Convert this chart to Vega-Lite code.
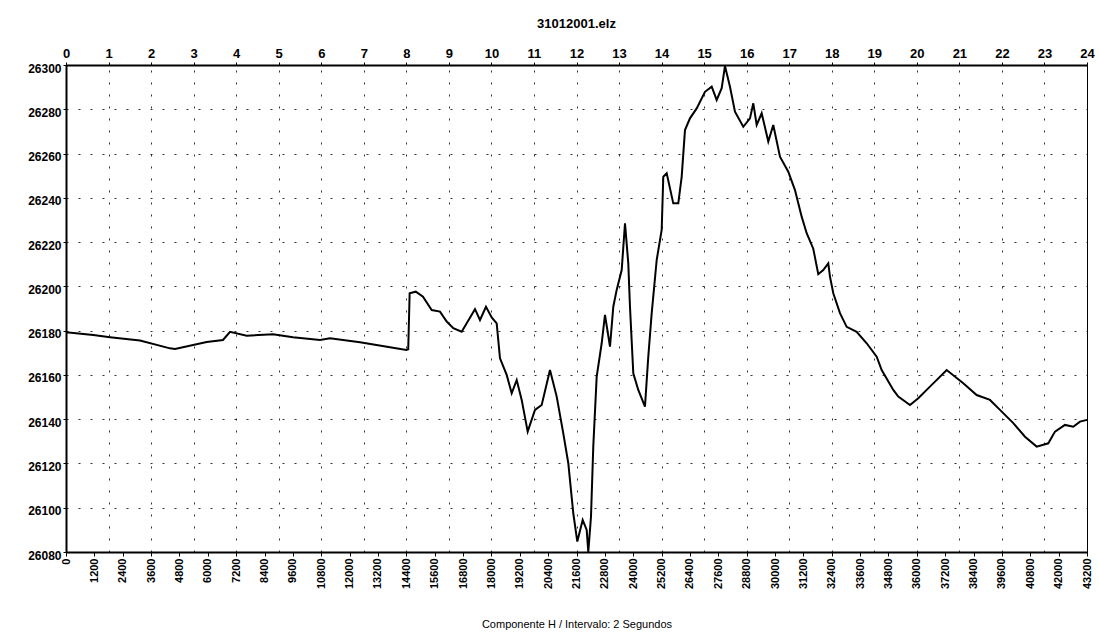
{
  "$schema": "https://vega.github.io/schema/vega-lite/v6.json",
  "width": 1021,
  "height": 487,
  "autosize": {"type": "none"},
  "padding": {"left": 66, "top": 65, "right": 12, "bottom": 87},
  "background": "white",
  "config": {
    "font": "Liberation Sans",
    "view": {"stroke": "black", "strokeWidth": 1},
    "axis": {"labelFont": "Liberation Sans", "titleFont": "Liberation Sans", "labelColor": "black", "titleColor": "black", "domainColor": "black", "tickColor": "black"}
  },
  "title": {"text": "31012001.elz", "fontSize": 13, "fontWeight": "bold", "color": "black", "anchor": "middle", "offset": 16, "font": "Liberation Sans"},
  "data": {"values": [
    {"s": 0, "v": 26179.3}, {"s": 1155, "v": 26178.0}, {"s": 1862, "v": 26177.0}, {"s": 3131, "v": 26175.5},
    {"s": 4400, "v": 26172.0}, {"s": 4612, "v": 26171.7}, {"s": 5953, "v": 26174.9}, {"s": 6643, "v": 26175.8},
    {"s": 6939, "v": 26179.5}, {"s": 7645, "v": 26177.7}, {"s": 8758, "v": 26178.4}, {"s": 9604, "v": 26177.0},
    {"s": 10747, "v": 26175.8}, {"s": 11170, "v": 26176.6}, {"s": 12439, "v": 26174.8}, {"s": 13835, "v": 26172.3},
    {"s": 14400, "v": 26171.3}, {"s": 14480, "v": 26171.6}, {"s": 14540, "v": 26196.9}, {"s": 14800, "v": 26197.6},
    {"s": 15105, "v": 26195.3}, {"s": 15473, "v": 26189.3}, {"s": 15824, "v": 26188.6}, {"s": 16108, "v": 26184.1},
    {"s": 16387, "v": 26181.1}, {"s": 16742, "v": 26179.5}, {"s": 16954, "v": 26183.3}, {"s": 17305, "v": 26189.7},
    {"s": 17516, "v": 26184.8}, {"s": 17770, "v": 26190.8}, {"s": 18012, "v": 26186.0}, {"s": 18223, "v": 26183.3},
    {"s": 18363, "v": 26167.5}, {"s": 18646, "v": 26160.0}, {"s": 18858, "v": 26151.7}, {"s": 19070, "v": 26157.7},
    {"s": 19281, "v": 26148.7}, {"s": 19535, "v": 26134.4}, {"s": 19843, "v": 26144.2}, {"s": 20127, "v": 26146.4},
    {"s": 20478, "v": 26162.2}, {"s": 20762, "v": 26150.2}, {"s": 21041, "v": 26133.6}, {"s": 21253, "v": 26120.1},
    {"s": 21464, "v": 26097.5}, {"s": 21634, "v": 26084.7}, {"s": 21862, "v": 26094.5}, {"s": 22031, "v": 26090.0},
    {"s": 22099, "v": 26080.0}, {"s": 22213, "v": 26096.0}, {"s": 22310, "v": 26127.6}, {"s": 22454, "v": 26159.2},
    {"s": 22666, "v": 26174.3}, {"s": 22805, "v": 26187.1}, {"s": 23017, "v": 26172.8}, {"s": 23157, "v": 26190.8},
    {"s": 23300, "v": 26198.4}, {"s": 23512, "v": 26207.4}, {"s": 23652, "v": 26228.5}, {"s": 23791, "v": 26210.4},
    {"s": 23863, "v": 26190.8}, {"s": 24003, "v": 26160.7}, {"s": 24214, "v": 26153.2}, {"s": 24497, "v": 26145.7},
    {"s": 24637, "v": 26168.2}, {"s": 24781, "v": 26187.8}, {"s": 24993, "v": 26211.9}, {"s": 25204, "v": 26225.5},
    {"s": 25272, "v": 26249.5}, {"s": 25416, "v": 26251.1}, {"s": 25695, "v": 26237.5}, {"s": 25907, "v": 26237.5},
    {"s": 26050, "v": 26249.5}, {"s": 26190, "v": 26270.6}, {"s": 26401, "v": 26275.9}, {"s": 26685, "v": 26280.4},
    {"s": 27036, "v": 26287.9}, {"s": 27320, "v": 26290.2}, {"s": 27531, "v": 26284.2}, {"s": 27743, "v": 26289.5},
    {"s": 27882, "v": 26299.5}, {"s": 28094, "v": 26290.2}, {"s": 28305, "v": 26278.9}, {"s": 28657, "v": 26272.1},
    {"s": 28940, "v": 26275.9}, {"s": 29080, "v": 26282.7}, {"s": 29224, "v": 26272.9}, {"s": 29435, "v": 26278.2},
    {"s": 29715, "v": 26265.4}, {"s": 29926, "v": 26272.9}, {"s": 30209, "v": 26258.6}, {"s": 30561, "v": 26251.8},
    {"s": 30844, "v": 26243.5}, {"s": 31127, "v": 26231.5}, {"s": 31339, "v": 26224.0}, {"s": 31618, "v": 26217.0},
    {"s": 31830, "v": 26205.5}, {"s": 32041, "v": 26207.4}, {"s": 32253, "v": 26210.4}, {"s": 32325, "v": 26204.4},
    {"s": 32465, "v": 26196.9}, {"s": 32748, "v": 26187.9}, {"s": 33032, "v": 26181.7}, {"s": 33454, "v": 26179.5},
    {"s": 33878, "v": 26174.3}, {"s": 34301, "v": 26168.2}, {"s": 34513, "v": 26162.2}, {"s": 35004, "v": 26153.2},
    {"s": 35215, "v": 26150.2}, {"s": 35710, "v": 26146.4}, {"s": 36061, "v": 26149.5}, {"s": 36556, "v": 26154.7},
    {"s": 37263, "v": 26162.2}, {"s": 37965, "v": 26156.2}, {"s": 38532, "v": 26150.9}, {"s": 39094, "v": 26148.7},
    {"s": 39518, "v": 26144.2}, {"s": 40081, "v": 26138.2}, {"s": 40576, "v": 26132.1}, {"s": 41071, "v": 26127.6},
    {"s": 41562, "v": 26129.1}, {"s": 41845, "v": 26134.4}, {"s": 42268, "v": 26137.4}, {"s": 42619, "v": 26136.6},
    {"s": 42903, "v": 26138.9}, {"s": 43200, "v": 26139.7}
  ]},
  "resolve": {"axis": {"x": "independent"}},
  "layer": [
    {
      "mark": {"type": "line", "color": "black", "strokeWidth": 2, "opacity": 0},
      "encoding": {
        "x": {"field": "s", "type": "quantitative", "scale": {"domain": [0, 43200], "nice": false, "zero": false},
          "axis": {"orient": "top", "title": null, "values": [0,1800,3600,5400,7200,9000,10800,12600,14400,16200,18000,19800,21600,23400,25200,27000,28800,30600,32400,34200,36000,37800,39600,41400,43200],
            "labelExpr": "datum.value / 1800", "labelFontSize": 13, "labelFontWeight": "bold", "labelPadding": 2, "tickSize": 3, "domainWidth": 2,
            "grid": true, "gridColor": "black", "gridDash": [2, 10], "gridWidth": 1, "gridOpacity": 0.8, "labelFlush": false}},
        "y": {"field": "v", "type": "quantitative", "scale": {"domain": [26080, 26300], "nice": false, "zero": false},
          "axis": {"title": null, "format": "d", "values": [26080,26100,26120,26140,26160,26180,26200,26220,26240,26260,26280,26300],
            "labelFontSize": 12, "labelFontWeight": "bold", "labelPadding": 2, "tickSize": 3, "domainWidth": 2, "labelBaseline": "top", "labelOffset": -2,
            "grid": true, "gridColor": "black", "gridDash": [2, 10], "gridWidth": 1, "gridOpacity": 0.8}}
      }
    },
    {
      "mark": {"type": "line", "color": "black", "strokeWidth": 2},
      "encoding": {
        "x": {"field": "s", "type": "quantitative",
          "axis": {"orient": "bottom", "title": "Componente H / Intervalo: 2 Segundos", "format": "d", "titleFontSize": 11, "titleFontWeight": "normal", "titlePadding": 30,
            "values": [0,1200,2400,3600,4800,6000,7200,8400,9600,10800,12000,13200,14400,15600,16800,18000,19200,20400,21600,22800,24000,25200,26400,27600,28800,30000,31200,32400,33600,34800,36000,37200,38400,39600,40800,42000,43200],
            "labelAngle": -90, "labelAlign": "right", "labelBaseline": "middle", "labelFontSize": 11, "labelFontWeight": "bold", "labelPadding": 2, "tickSize": 4, "domainWidth": 2, "grid": false, "labelFlush": false}},
        "y": {"field": "v", "type": "quantitative"}
      }
    }
  ]
}
